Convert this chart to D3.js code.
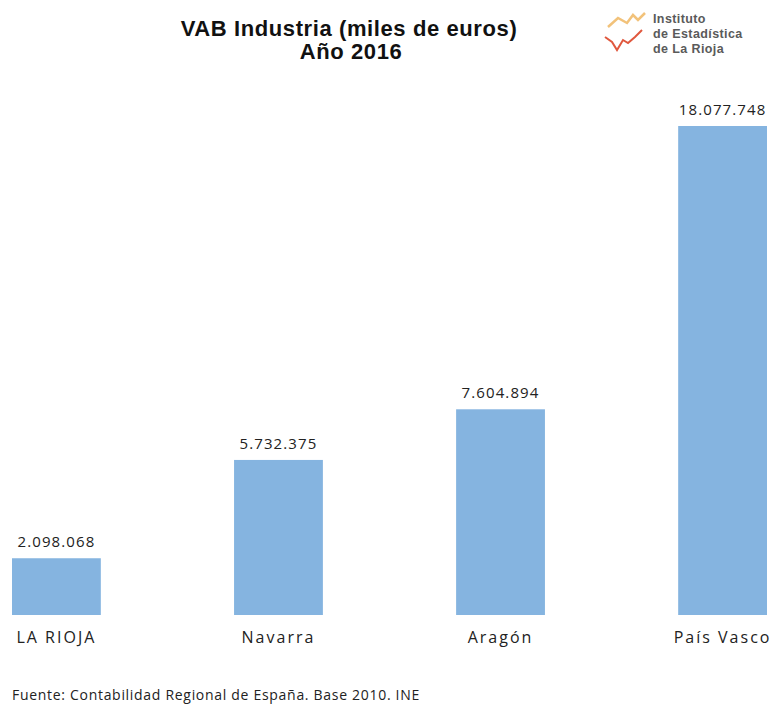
<!DOCTYPE html>
<html lang="es">
<head>
    <meta charset="UTF-8">
    <title>VAB Industria (miles de euros) Año 2016</title>
    <script src="https://d3js.org/d3.v7.min.js"></script>
    <style>
        body { margin: 0; background: #fff; }
        .title { font: bold 22px "Liberation Sans", Arial, sans-serif; fill: #111; letter-spacing: 0.6px; }
        .value { font: 15px "Open Sans", sans-serif; fill: #222; letter-spacing: 1.1px; }
        .cat { font: 16px "Open Sans", sans-serif; fill: #222; letter-spacing: 2px; }
        .source { font: 14px "Open Sans", sans-serif; fill: #222; letter-spacing: 0.7px; }
        .logo { font: bold 12.5px "Liberation Sans", Arial, sans-serif; fill: #5a5a5a; letter-spacing: 0.4px; }
    </style>
</head>
<body>
    <svg width="776" height="704"></svg>

    <script>
        // Data
        const categories = ['LA RIOJA', 'Navarra', 'Aragón', 'País Vasco'];
        const values = [2098068, 5732375, 7604894, 18077748];
        const data = categories.map((c, i) => ({category: c, value: values[i]}));

        const svg = d3.select("svg");

        const x = d3.scaleBand()
            .domain(categories)
            .range([12, 767])
            .paddingInner(0.6)
            .paddingOuter(0);

        const y = d3.scaleLinear()
            .domain([0, 18077748])
            .range([615, 126]);

        const fmt = d3.formatLocale({decimal: ",", thousands: ".", grouping: [3], currency: ["", "€"]}).format(",d");

        // Title
        svg.append("text").attr("class", "title")
            .attr("x", 349).attr("y", 36).attr("text-anchor", "middle")
            .text("VAB Industria (miles de euros)");
        svg.append("text").attr("class", "title")
            .attr("x", 351).attr("y", 59).attr("text-anchor", "middle")
            .text("Año 2016");

        // Bars
        svg.selectAll(".bar")
            .data(data)
            .enter().append("rect")
            .attr("class", "bar")
            .attr("x", d => x(d.category))
            .attr("width", x.bandwidth())
            .attr("y", d => y(d.value))
            .attr("height", d => y(0) - y(d.value))
            .attr("fill", "#85b4e0");

        // Value labels
        svg.selectAll(".value")
            .data(data)
            .enter().append("text")
            .attr("class", "value")
            .attr("x", d => x(d.category) + x.bandwidth() / 2)
            .attr("y", d => y(d.value) - 11)
            .attr("text-anchor", "middle")
            .text(d => fmt(d.value));

        // Category labels
        svg.selectAll(".cat")
            .data(data)
            .enter().append("text")
            .attr("class", "cat")
            .attr("x", d => x(d.category) + x.bandwidth() / 2)
            .attr("y", 643)
            .attr("text-anchor", "middle")
            .text(d => d.category);

        // Source
        svg.append("text").attr("class", "source")
            .attr("x", 12).attr("y", 700)
            .text("Fuente: Contabilidad Regional de España. Base 2010. INE");

        // Logo
        const logo = svg.append("g").attr("transform", "translate(604,12)");
        logo.append("path")
            .attr("d", "M4,15 L14,6 L23,11 L29,3 L34,8 L41,1")
            .attr("fill", "none").attr("stroke", "#f2c27a").attr("stroke-width", 2.5);
        logo.append("path")
            .attr("d", "M1,25 L8,30 L13,38 L19,28 L24,31 L31,25 L38,18")
            .attr("fill", "none").attr("stroke", "#e0583e").attr("stroke-width", 2);
        logo.append("text").attr("class", "logo").attr("x", 49).attr("y", 11).text("Instituto");
        logo.append("text").attr("class", "logo").attr("x", 49).attr("y", 26).text("de Estadística");
        logo.append("text").attr("class", "logo").attr("x", 49).attr("y", 41).text("de La Rioja");
    </script>
</body>
</html>
